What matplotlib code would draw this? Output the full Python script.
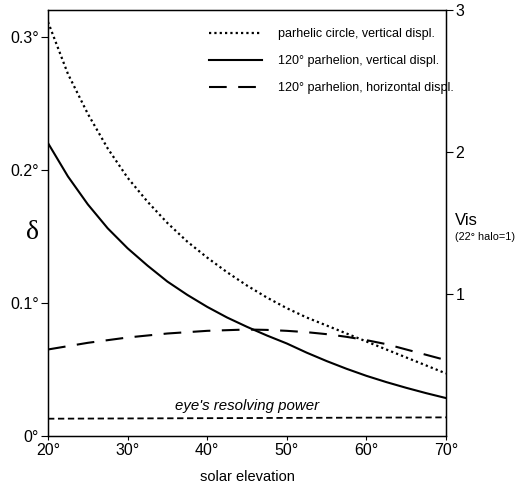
import matplotlib
matplotlib.use("Agg")
import matplotlib.pyplot as plt

plt.rcParams['font.family'] = ['Liberation Sans', 'DejaVu Sans']

# solar elevation (deg)
elev = [20, 22.5, 25, 27.5, 30, 32.5, 35, 37.5, 40, 42.5, 45,
        47.5, 50, 52.5, 55, 57.5, 60, 62.5, 65, 67.5, 70]
# displacement delta (deg)
pc_vert = [0.311, 0.272, 0.242, 0.216, 0.194, 0.176, 0.160, 0.146, 0.134, 0.123, 0.113,
           0.104, 0.096, 0.089, 0.083, 0.077, 0.071, 0.065, 0.059, 0.053, 0.047]
p120_vert = [0.220, 0.195, 0.174, 0.156, 0.141, 0.128, 0.116, 0.106, 0.097, 0.089, 0.082,
             0.0755, 0.0695, 0.0626, 0.0563, 0.0505, 0.0452, 0.0405, 0.0362, 0.0322, 0.0285]
p120_horiz = [0.065, 0.0675, 0.070, 0.072, 0.074, 0.0755, 0.077, 0.078, 0.079, 0.0795, 0.080,
              0.0797, 0.079, 0.078, 0.0765, 0.0745, 0.072, 0.069, 0.065, 0.061, 0.057]
resolve_x = [20, 70]
resolve_y = [0.013, 0.014]

labels = ["parhelic circle, vertical displ.",
          "120° parhelion, vertical displ.",
          "120° parhelion, horizontal displ."]

fig = plt.figure(figsize=(5.18, 4.87), dpi=100)
ax = fig.add_axes([0.0927, 0.1047, 0.7683, 0.8748])

ax.plot(elev, pc_vert, color='black', lw=1.6, ls=(0, (1, 1.4)), label=labels[0])
ax.plot(elev, p120_vert, color='black', lw=1.5, ls='-', label=labels[1])
ax.plot(elev, p120_horiz, color='black', lw=1.5, ls=(0, (8.5, 5.5)), label=labels[2])
ax.plot(resolve_x, resolve_y, color='black', lw=1.3, ls=(0, (3.5, 2)))
ax.text(45, 0.0175, "eye's resolving power", style='italic', fontsize=10.8,
        ha='center', va='bottom')

ax.set_xlim(20, 70)
ax.set_ylim(0, 0.32)
ax.set_xticks([20, 30, 40, 50, 60, 70])
ax.set_xticklabels([f"{v}°" for v in [20, 30, 40, 50, 60, 70]], fontsize=11.5)
ax.set_yticks([0, 0.1, 0.2, 0.3])
ax.set_yticklabels(["0°", "0.1°", "0.2°", "0.3°"], fontsize=11.5)
ax.tick_params(axis='y', direction='out', length=5, width=0.8, pad=1.5)
ax.tick_params(axis='x', direction='out', length=3, width=0.8, pad=2)
ax.set_xlabel("solar elevation", fontsize=10.5, labelpad=9)
ax.text(-0.022, 0.478, "δ", transform=ax.transAxes, fontsize=20,
        family=['Liberation Serif', 'DejaVu Serif'], ha='right', va='center')
for s in ax.spines.values():
    s.set_linewidth(1.0)

ax2 = ax.twinx()
ax2.set_ylim(0, 3)
ax2.set_yticks([1, 2, 3])
ax2.set_yticklabels(["1", "2", "3"], fontsize=11.5)
ax2.tick_params(axis='y', direction='out', length=5, width=0.8, pad=2)
ax2.text(1.022, 0.507, "Vis", transform=ax.transAxes, fontsize=12,
         ha='left', va='center')
ax2.text(1.022, 0.467, "(22° halo=1)", transform=ax.transAxes, fontsize=7.8,
         ha='left', va='center')

ax.legend(loc='upper left', bbox_to_anchor=(0.405, 0.958), frameon=False,
          fontsize=9, handlelength=4.2, handletextpad=1.3, labelspacing=1.2,
          borderpad=0, borderaxespad=0)

fig.savefig("out.png", dpi=100)
